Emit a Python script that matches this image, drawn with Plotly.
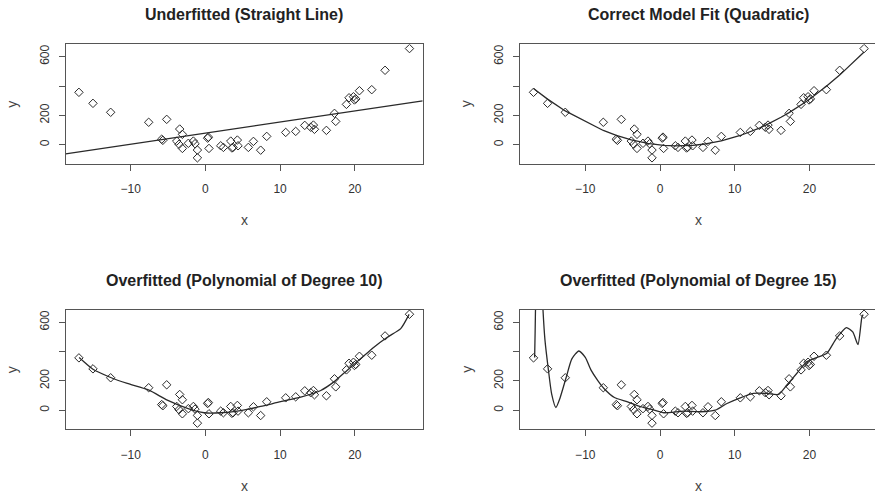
import numpy as np
import plotly.graph_objects as go

# ---- data ----
x_data = [-16.93, -15.05, -12.68, -7.59, -5.18, -5.85, -5.70, -3.44, -3.08, -3.84,
          -3.53, -3.08, -2.28, -1.61, -1.39, -1.07, -1.07, 0.30, 0.40, 0.48,
          2.05, 2.41, 3.39, 3.55, 3.70, 4.28, 4.37, 5.75, 6.43, 7.40,
          8.21, 10.75, 12.09, 13.30, 14.10, 14.46, 14.60, 16.20, 17.28, 17.45,
          18.88, 19.23, 19.82, 19.95, 20.13, 20.62, 22.27, 24.05, 27.32]
y_data = [357, 282, 221, 153, 173, 38, 30, 107, 71, 25,
          3, -25, 10, 25, 7, -36, -89, 45, 52, -25,
          -7, -18, 25, -22, -18, 32, -7, -18, 23, -37,
          57, 84, 91, 132, 119, 134, 105, 98, 214, 159,
          275, 320, 327, 305, 312, 368, 375, 507, 655]

# degree-10 fitted curve
x_deg10 = [-16.9, -15.05, -12.68, -10.45, -7.55, -5.1, -2.4, -0.18, 2.05, 4.5,
           7.4, 10.08, 12.76, 15.44, 17.2, 19.0, 20.8, 22.6, 24.4, 26.15, 27.27]
y_deg10 = [359, 279, 223, 182, 136, 68, 12, -18, -18, -5,
           25, 58, 88, 134, 193, 273, 352, 432, 500, 557, 654]

# degree-15 fitted curve
x_deg15 = [-16.78, -16.72, -16.64, -16.4, -16.0, -15.7, -15.4, -14.95, -14.5, -13.93,
           -13.4, -12.56, -11.8, -10.87, -10.0, -9.23, -8.3, -7.5, -6.1, -4.34,
           -2.57, -0.8, 0.53, 3.2, 5.4, 7.4, 8.97, 10.75, 12.5, 14.3,
           15.85, 16.96, 18.3, 19.6, 20.96, 22.3, 23.6, 24.95, 25.8, 26.5,
           27.03, 27.2]
y_deg15 = [359, 520, 760, 1200, 1100, 720, 480, 280, 110, 18,
           80, 223, 350, 404, 360, 273, 200, 148, 86, 57,
           23, 0, -18, -7, -11, 0, 45, 84, 114, 114,
           107, 170, 250, 329, 359, 386, 489, 564, 534, 448,
           636, 652]

titles = ["Underfitted (Straight Line)", "Correct Model Fit (Quadratic)",
          "Overfitted (Polynomial of Degree 10)", "Overfitted (Polynomial of Degree 15)"]
x_ticks = [-10, 0, 10, 20]
y_ticks = [0, 200, 400, 600]
y_ticktext = ["0", "200", "", "600"]

x_range_left = [-18.70, 29.09]
x_range_right = [-18.70, 28.78]
y_range = [-129, 684]

W, H = 875, 495
INK = "#2a2a2a"
FONT = "Liberation Sans, Arial, sans-serif"

xs = np.array(x_data)
ys = np.array(y_data)
order = np.argsort(xs)

# fits
c1 = np.polyfit(xs, ys, 1)
line_x = np.array(x_range_left)
line_y = np.polyval(c1, line_x)
c2 = np.polyfit(xs, ys, 2)
quad_x = xs[order]
quad_y = np.polyval(c2, quad_x)

fig = go.Figure()

# panel geometry in pixels: (left, right, top, bottom)
panels = [
    (65.7, 422.7, 44.3, 163.7),
    (520.3, 875.0, 44.3, 163.7),
    (65.7, 422.7, 310.0, 429.0),
    (520.3, 875.0, 310.0, 429.0),
]

curves = [
    (line_x, line_y, "linear"),
    (quad_x, quad_y, "linear"),
    (np.array(x_deg10), np.array(y_deg10), "spline"),
    (np.array(x_deg15), np.array(y_deg15), "spline"),
]

layout = {}
annotations = []
for i, (l, r, t, b) in enumerate(panels):
    n = i + 1
    xa = "x" if n == 1 else f"x{n}"
    ya = "y" if n == 1 else f"y{n}"
    right = i % 2 == 1
    layout["xaxis" if n == 1 else f"xaxis{n}"] = dict(
        domain=[l / W, r / W], range=x_range_right if right else x_range_left,
        anchor=ya, showgrid=False, zeroline=False, showline=True, mirror=True,
        linecolor="#555", linewidth=1.3, ticks="outside", ticklen=6, tickwidth=1,
        tickcolor="#555", tickvals=x_ticks, ticklabelstandoff=8,
        tickfont=dict(family=FONT, size=12, color="#333"))
    layout["yaxis" if n == 1 else f"yaxis{n}"] = dict(
        domain=[1 - b / H, 1 - t / H], range=y_range, anchor=xa,
        showgrid=False, zeroline=False, showline=True, mirror=not right,
        linecolor="#555", linewidth=1.3, ticks="outside", ticklen=6, tickwidth=1,
        tickcolor="#555", tickvals=y_ticks, ticktext=y_ticktext, tickangle=-90,
        ticklabelstandoff=5,
        tickfont=dict(family=FONT, size=12, color="#333"))
    cx, cy, shape = curves[i]
    fig.add_trace(go.Scatter(x=cx, y=cy, mode="lines", xaxis=xa, yaxis=ya,
                             line=dict(color=INK, width=1.3, shape=shape, smoothing=0.6),
                             showlegend=False, hoverinfo="skip"))
    fig.add_trace(go.Scatter(x=x_data, y=y_data, mode="markers", xaxis=xa, yaxis=ya,
                             marker=dict(symbol="diamond-open", size=6.5, color=INK,
                                         line=dict(width=1, color=INK)),
                             showlegend=False))
    full_r = r if not right else l + 357.0
    mid = (l + full_r) / 2
    annotations.append(dict(text=f"<b>{titles[i]}</b>", x=mid / W, y=1 - (t - 29.8) / H,
                            xref="paper", yref="paper", showarrow=False,
                            xanchor="center", yanchor="middle",
                            font=dict(family=FONT, size=16, color="#222")))
    annotations.append(dict(text="x", x=mid / W,
                            y=1 - (b + 56.5) / H, xref="paper", yref="paper",
                            showarrow=False, xanchor="center", yanchor="middle",
                            font=dict(family=FONT, size=14, color="#444")))
    annotations.append(dict(text="y", x=(l - 54) / W, y=1 - ((t + b) / 2) / H,
                            xref="paper", yref="paper", showarrow=False, textangle=-90,
                            xanchor="center", yanchor="middle",
                            font=dict(family=FONT, size=14, color="#444")))

fig.update_layout(width=W, height=H, margin=dict(l=0, r=0, t=0, b=0),
                  paper_bgcolor="white", plot_bgcolor="white",
                  annotations=annotations, **layout)
fig.write_html("out.html", config={"displayModeBar": False},
               post_script="document.body.style.margin='0';"
                           "document.body.style.overflow='hidden';")
